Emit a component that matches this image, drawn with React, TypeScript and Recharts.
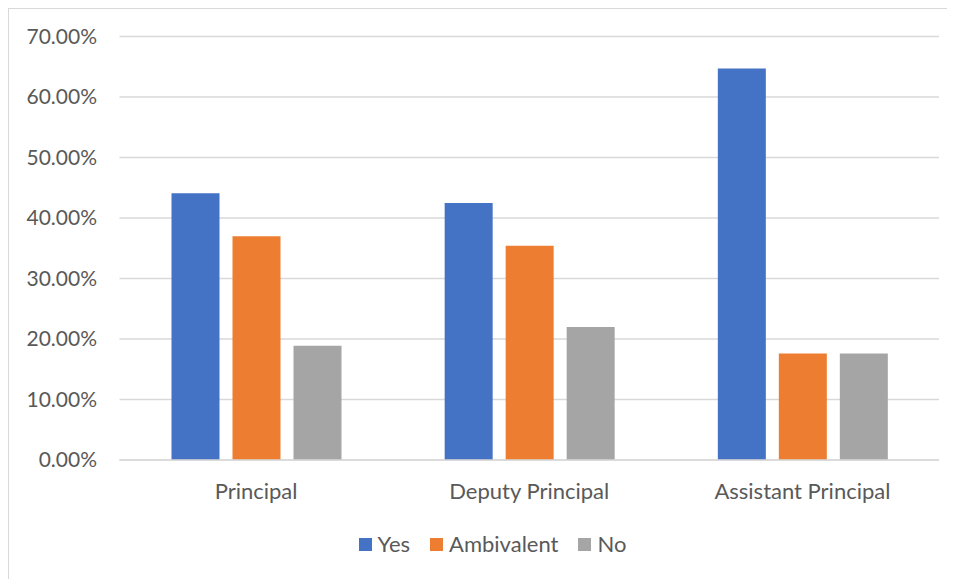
import { BarChart, Bar, XAxis, YAxis, CartesianGrid, Legend } from 'recharts';

const categories = ['Principal', 'Deputy Principal', 'Assistant Principal'];
const yes = [44.1, 42.5, 64.7];
const ambivalent = [37.0, 35.4, 17.6];
const no = [18.9, 22.0, 17.6];
const yTicks = [0, 10, 20, 30, 40, 50, 60, 70];

const series = [
  { key: 'yes', name: 'Yes', color: '#4472C4' },
  { key: 'ambivalent', name: 'Ambivalent', color: '#ED7D31' },
  { key: 'no', name: 'No', color: '#A5A5A5' },
];

const data = categories.map((name, i) => ({
  name,
  yes: yes[i],
  ambivalent: ambivalent[i],
  no: no[i],
}));

const FONT = 'Lato, "Open Sans", sans-serif';
const TEXT = '#595959';

function LegendContent() {
  return (
    <div
      style={{
        display: 'flex',
        justifyContent: 'center',
        alignItems: 'center',
        height: 26,
        paddingLeft: 24,
        fontFamily: FONT,
        fontSize: 22,
        color: TEXT,
      }}
    >
      {series.map((s, i) => (
        <div key={s.key} style={{ display: 'flex', alignItems: 'center', marginLeft: i === 0 ? 0 : 20 }}>
          <span style={{ width: 13, height: 13, background: s.color, display: 'inline-block', marginRight: 6 }} />
          <span style={{ lineHeight: '26px' }}>{s.name}</span>
        </div>
      ))}
    </div>
  );
}

export default function App() {
  return (
    <div style={{ width: 943, height: 573, border: '1px solid #D9D9D9', background: '#fff' }}>
      <BarChart
        width={943}
        height={573}
        data={data}
        margin={{ top: 27.5, right: 13, left: 0, bottom: 25 }}
        barCategoryGap={52}
        barGap={13}
      >
        <CartesianGrid vertical={false} stroke="#D9D9D9" strokeWidth={1.3} />
        <XAxis
          dataKey="name"
          height={71}
          axisLine={{ stroke: '#D9D9D9', strokeWidth: 1.3 }}
          tickLine={false}
          tickMargin={17}
          tick={{ fill: TEXT, fontSize: 22, fontFamily: FONT }}
        />
        <YAxis
          width={110.5}
          domain={[0, 70]}
          ticks={yTicks}
          axisLine={false}
          tickLine={false}
          tickMargin={16.5}
          tickFormatter={(v: number) => `${v.toFixed(2)}%`}
          tick={{ fill: TEXT, fontSize: 21, fontFamily: FONT }}
        />
        <Legend
          verticalAlign="bottom"
          content={<LegendContent />}
          wrapperStyle={{ left: 0, width: 943 }}
        />
        {series.map((s) => (
          <Bar key={s.key} dataKey={s.key} name={s.name} fill={s.color} isAnimationActive={false} />
        ))}
      </BarChart>
    </div>
  );
}
